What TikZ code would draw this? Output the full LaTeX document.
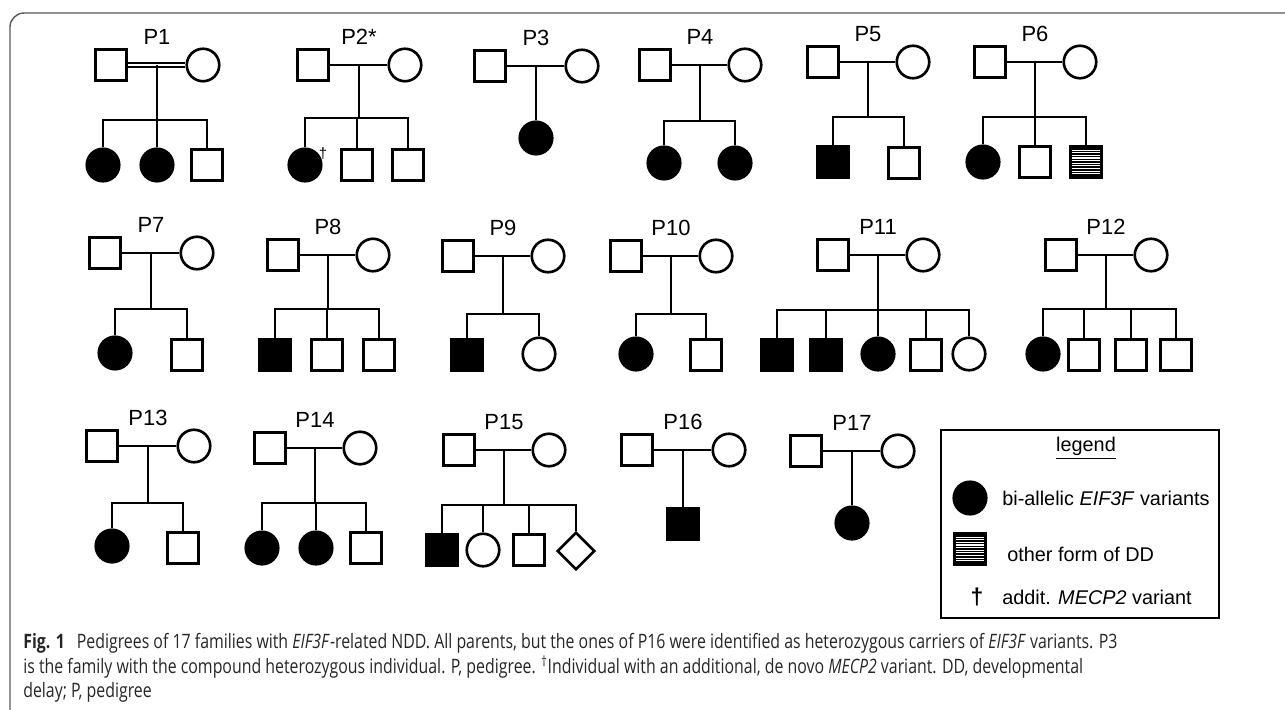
\documentclass[tikz,border=0pt]{standalone}
\usepackage{fontspec}
\setmainfont{Liberation Sans}
\newfontfamily\capfont[FakeStretch=0.8]{Open Sans}
\usetikzlibrary{calc,shapes.geometric}
\tikzset{
	ped/.style={draw, inner sep=0pt},
	male/.style={ped, rectangle, minimum size=0.63cm},
	female/.style={ped, circle, minimum size=0.65cm},
	unknown/.style={ped, diamond, minimum size=0.75cm},
	aff/.style={fill=black},
	otherdd/.style={path picture={\foreach \i in {1,...,11}
		{\draw[line width=0.85pt] ([yshift=-\i*1.49pt]path picture bounding box.north west) -- ([yshift=-\i*1.49pt]path picture bounding box.north east);}}},
	famlabel/.style={font=\fontsize{12.5}{14}\selectfont},
	legtext/.style={font=\fontsize{11.3}{13}\selectfont, anchor=west, inner sep=0pt},
	capline/.style={font=\capfont\fontsize{11.3}{13}\selectfont, text=black!85, anchor=base west, inner sep=0pt},
}
\newcommand{\Couple}[6][]%
% [marriage line options], family, label, father x, mother x, height
{	\node[male] (#2f) at (#4,#6) {};
	\node[female] (#2m) at (#5,#6) {};
	\draw[#1] (#2f) -- (#2m);
	\coordinate (#2c) at ($(#2f)!0.5!(#2m)$);
	\node[famlabel] (#2l) at ($(#2c)+(0,-28)$) {#3};
}
\newcommand{\Kids}[3]%
% family, sibship height, children
{	\coordinate (#1s) at (#1c |- 0,#2);
	\draw (#1c) -- (#1s);
	\foreach \k in {#3}
	{\draw (#1s) -| (\k);}
}
\begin{document}
\begin{tikzpicture}[x=0.02cm, y=-0.02cm, line width=1.5pt]
	\useasboundingbox (0,0) rectangle (1285,710);
	\draw[black!65, line width=0.8pt, rounded corners=8pt] (10,710) -- (10,13) -- (1285,13);

	% first row
	\Couple[double, double distance=1pt, line width=1pt]{p1}{P1}{111}{203}{65}
	\node[female, aff] (p1k1) at (103,165) {};
	\node[female, aff] (p1k2) at (157,165) {};
	\node[male] (p1k3) at (207,165) {};
	\Kids{p1}{120}{p1k1,p1k2,p1k3}

	\Couple{p2}{P2*}{313}{405}{65}
	\node[female, aff] (p2k1) at (305,165) {};
	\node[male] (p2k2) at (357,165) {};
	\node[male] (p2k3) at (408,165) {};
	\Kids{p2}{118}{p2k1,p2k2,p2k3}
	\node[font=\fontsize{8.5}{9}\selectfont, inner sep=0pt] (p2dag) at (323,154) {\textdagger};

	\Couple{p3}{P3}{490}{582}{66}
	\node[female, aff] (p3k1) at (536,138) {};
	\draw (p3c) -- (p3k1);

	\Couple{p4}{P4}{655}{745}{65}
	\node[female, aff] (p4k1) at (664,163) {};
	\node[female, aff] (p4k2) at (735,163) {};
	\Kids{p4}{121}{p4k1,p4k2}

	\Couple{p5}{P5}{823}{913}{62}
	\node[male, aff] (p5k1) at (833,162) {};
	\node[male] (p5k2) at (904,163) {};
	\Kids{p5}{117}{p5k1,p5k2}

	\Couple{p6}{P6}{990}{1080}{62}
	\node[female, aff] (p6k1) at (983,162) {};
	\node[male] (p6k2) at (1035,162) {};
	\node[male, otherdd] (p6k3) at (1086,162) {};
	\Kids{p6}{117}{p6k1,p6k2,p6k3}

	% second row
	\Couple{p7}{P7}{105}{197}{253}
	\node[female, aff] (p7k1) at (115,353) {};
	\node[male] (p7k2) at (187,355) {};
	\Kids{p7}{309}{p7k1,p7k2}

	\Couple{p8}{P8}{283}{373}{255}
	\node[male, aff] (p8k1) at (275,355) {};
	\node[male] (p8k2) at (327,355) {};
	\node[male] (p8k3) at (379,355) {};
	\Kids{p8}{309}{p8k1,p8k2,p8k3}

	\Couple{p9}{P9}{458}{548}{256}
	\node[male, aff] (p9k1) at (467,355) {};
	\node[female] (p9k2) at (539,354) {};
	\Kids{p9}{314}{p9k1,p9k2}

	\Couple{p10}{P10}{626}{716}{256}
	\node[female, aff] (p10k1) at (636,354) {};
	\node[male] (p10k2) at (706,355) {};
	\Kids{p10}{314}{p10k1,p10k2}

	\Couple{p11}{P11}{833}{923}{255}
	\node[male, aff] (p11k1) at (777,355) {};
	\node[male, aff] (p11k2) at (826,355) {};
	\node[female, aff] (p11k3) at (878,354) {};
	\node[male] (p11k4) at (926,355) {};
	\node[female] (p11k5) at (969,354) {};
	\Kids{p11}{310}{p11k1,p11k2,p11k3,p11k4,p11k5}

	\Couple{p12}{P12}{1061}{1151}{255}
	\node[female, aff] (p12k1) at (1043,354) {};
	\node[male] (p12k2) at (1084,355) {};
	\node[male] (p12k3) at (1131,355) {};
	\node[male] (p12k4) at (1176,355) {};
	\Kids{p12}{309}{p12k1,p12k2,p12k3,p12k4}

	% third row
	\Couple{p13}{P13}{102}{194}{446}
	\node[female, aff] (p13k1) at (112,546) {};
	\node[male] (p13k2) at (183,548) {};
	\Kids{p13}{503}{p13k1,p13k2}

	\Couple{p14}{P14}{270}{360}{448}
	\node[female, aff] (p14k1) at (262,548) {};
	\node[female, aff] (p14k2) at (316,548) {};
	\node[male] (p14k3) at (366,548) {};
	\Kids{p14}{503}{p14k1,p14k2,p14k3}

	\Couple{p15}{P15}{459}{549}{450}
	\node[male, aff] (p15k1) at (442,550) {};
	\node[female] (p15k2) at (483,550) {};
	\node[male] (p15k3) at (529,550) {};
	\node[unknown] (p15k4) at (576,551) {};
	\Kids{p15}{505}{p15k1,p15k2,p15k3,p15k4}

	\Couple{p16}{P16}{637}{729}{450}
	\node[male, aff] (p16k1) at (683,524) {};
	\draw (p16c) -- (p16k1);

	\Couple{p17}{P17}{806}{898}{451}
	\node[female, aff] (p17k1) at (852,523) {};
	\draw (p17c) -- (p17k1);

	% legend
	\draw[line width=1.5pt] (941,430) rectangle (1219,618);
	\node[font=\fontsize{11.3}{13}\selectfont] (lgtitle) at (1086,448) {\underline{legend}};
	\node[female, aff] (lgaff) at (970,498) {};
	\node[legtext] (lgafft) at (1001,498) {bi-allelic \textit{EIF3F} variants};
	\node[male, otherdd] (lgdd) at (970,549) {};
	\node[legtext] (lgddt) at (1006,554) {other form of DD};
	\node[font=\fontsize{13}{15}\selectfont\bfseries, inner sep=0pt] (lgdag) at (977,597) {\textdagger};
	\node[legtext] (lgdagt) at (1001,597) {addit. \textit{MECP2} variant};

	% caption
	\node[capline] (cap1) at (22,648) {\textbf{Fig. 1}\hspace{0.6em}Pedigrees of 17 families with \textit{EIF3F}-related NDD. All parents, but the ones of P16 were identified as heterozygous carriers of \textit{EIF3F} variants. P3};
	\node[capline] (cap2) at (22,673) {is the family with the compound heterozygous individual. P, pedigree. \textsuperscript{\textdagger}Individual with an additional, de novo \textit{MECP2} variant. DD, developmental};
	\node[capline] (cap3) at (22,697) {delay; P, pedigree};
\end{tikzpicture}
\end{document}
